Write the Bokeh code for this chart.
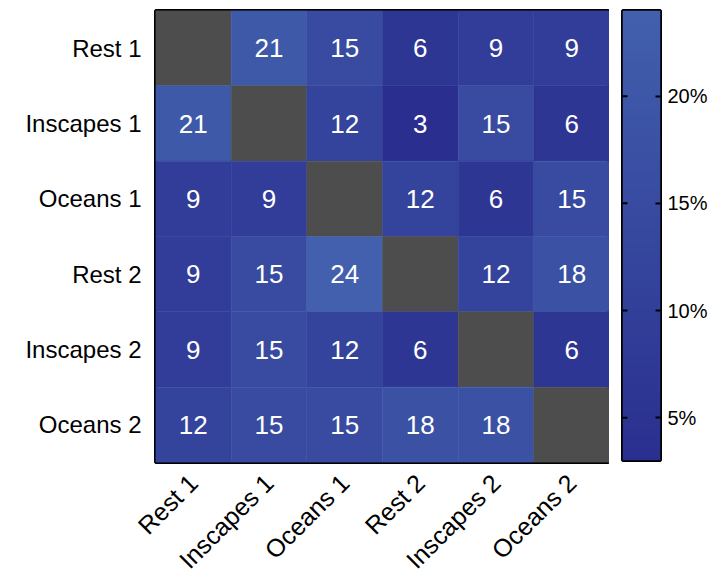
import math
import numpy as np
from bokeh.plotting import figure
from bokeh.layouts import row
from bokeh.models import (ColumnDataSource, LinearColorMapper, LinearAxis,
                          FixedTicker, PrintfTickFormatter, FactorRange, Range1d)
from bokeh.embed import file_html
from bokeh.resources import INLINE

conditions = ["Rest 1", "Inscapes 1", "Oceans 1", "Rest 2", "Inscapes 2", "Oceans 2"]

# percentage overlap between conditions; None on the diagonal
row_rest1 = [None, 21, 15, 6, 9, 9]
row_inscapes1 = [21, None, 12, 3, 15, 6]
row_oceans1 = [9, 9, None, 12, 6, 15]
row_rest2 = [9, 15, 24, None, 12, 18]
row_inscapes2 = [9, 15, 12, 6, None, 6]
row_oceans2 = [12, 15, 15, 18, 18, None]
rows = [row_rest1, row_inscapes1, row_oceans1, row_rest2, row_inscapes2, row_oceans2]

colorbar_ticks = [5, 10, 15, 20]
vmin, vmax = 3, 24

FONT = "Liberation Sans"

# smooth dark-to-light blue palette
lo = np.array([0x2A, 0x2F, 0x8F])
hi = np.array([0x42, 0x60, 0xAD])
palette = ["#%02x%02x%02x" % tuple(int(round(c)) for c in lo + (hi - lo) * t)
           for t in np.linspace(0, 1, 256)]
mapper = LinearColorMapper(palette=palette, low=vmin, high=vmax)

xs, ys, cols, labels = [], [], [], []
for r, vals in enumerate(rows):
    for c, v in enumerate(vals):
        xs.append(conditions[c])
        ys.append(conditions[r])
        if v is None:
            cols.append("#4d4d4d")
            labels.append("")
        else:
            t = (v - vmin) / (vmax - vmin)
            cols.append(palette[int(round(t * (len(palette) - 1)))])
            labels.append(str(v))

src = ColumnDataSource(dict(x=xs, y=ys, color=cols, label=labels))

# --- heatmap ---
p = figure(output_backend="svg", toolbar_location=None,
           x_range=FactorRange(*conditions),
           y_range=FactorRange(*conditions[::-1]),
           frame_width=454, frame_height=452,
           min_border_left=155, min_border_top=10, min_border_bottom=120,
           min_border_right=0)

p.rect(x="x", y="y", width=1, height=1, source=src, fill_color="color",
       line_color="color", line_width=0.5)
p.text(x="x", y="y", text="label", source=src, text_color="white",
       text_align="center", text_baseline="middle", text_font_size="26px",
       text_font={"value": FONT})

p.outline_line_color = "black"
p.outline_line_width = 3
p.grid.visible = False

for ax in (p.xaxis, p.yaxis):
    ax.axis_line_color = None
    ax.major_tick_line_color = None
    ax.minor_tick_line_color = None
    ax.major_label_text_font = FONT
    ax.major_label_text_font_size = "24px"
    ax.major_label_text_color = "black"
p.xaxis.major_label_text_font_size = "25px"
p.yaxis.major_label_standoff = 8
p.xaxis.major_label_orientation = math.pi / 4
p.xaxis.major_label_standoff = 10

# --- colour bar ---
cb = figure(output_backend="svg", toolbar_location=None,
            x_range=Range1d(0, 1), y_range=Range1d(vmin, vmax),
            frame_width=38, frame_height=450,
            min_border_left=13, min_border_top=10, min_border_bottom=122,
            min_border_right=57, y_axis_location=None)
cb.xaxis.visible = False
cb.grid.visible = False
cb.image(image=[np.linspace(vmin, vmax, 256).reshape(256, 1)],
         x=0, y=vmin, dw=1, dh=vmax - vmin, color_mapper=mapper)
cb.outline_line_color = "black"
cb.outline_line_width = 3

# short inward ticks along the left edge of the bar
tick_len = 5 / 38
cb.segment(x0=[0] * len(colorbar_ticks), x1=[tick_len] * len(colorbar_ticks),
           y0=colorbar_ticks, y1=colorbar_ticks, line_color="black", line_width=2)

right_ax = LinearAxis(ticker=FixedTicker(ticks=colorbar_ticks),
                      formatter=PrintfTickFormatter(format="%d%%"),
                      major_label_text_font=FONT,
                      major_label_text_font_size="20px",
                      major_label_text_color="black",
                      major_label_standoff=7,
                      major_tick_in=5, major_tick_out=0,
                      major_tick_line_width=2, axis_line_color=None,
                      minor_tick_line_color=None)
cb.add_layout(right_ax, "right")

layout = row(p, cb, spacing=0)
open("out.html", "w").write(file_html(layout, INLINE))
